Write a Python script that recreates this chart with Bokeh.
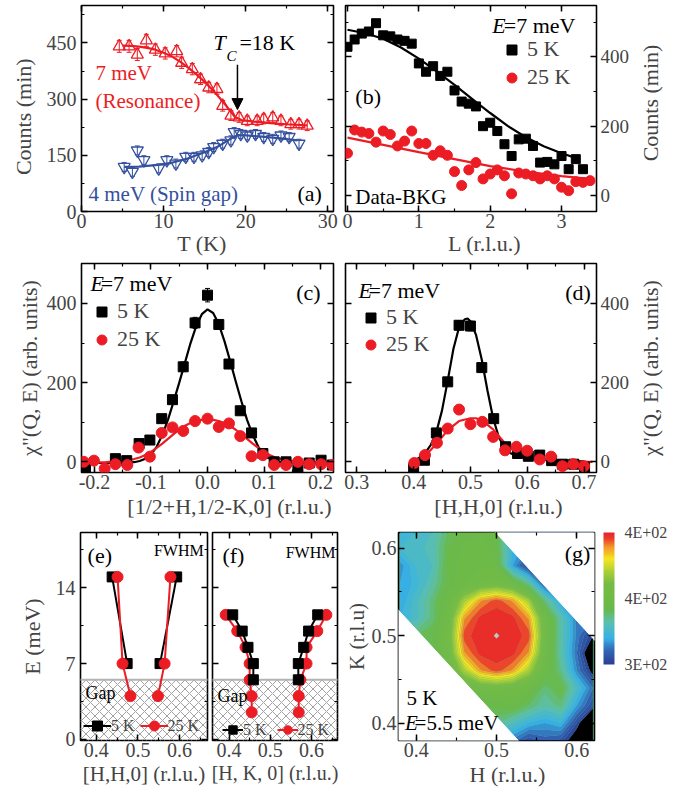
import numpy as np
from bokeh.plotting import figure
from bokeh.layouts import column, row
from bokeh.models import (Range1d, LinearAxis, SingleIntervalTicker, FixedTicker, Label,
                          Legend, LegendItem, Arrow, NormalHead, Whisker, TeeHead,
                          ColumnDataSource, ColorBar, LinearColorMapper, CustomJSTickFormatter)
from bokeh.embed import file_html
from bokeh.resources import INLINE

FONT = "Liberation Serif"
RED = "#ec1c24"
BLUE = "#34509e"
NB = "\u00a0"

# ------------------------------------------------------------------ data
# (a) temperature dependence
a_T_7 = [4.6, 5.8, 6.8, 7.9, 9.0, 10.2, 11.6, 12.2, 13.5, 14.5, 15.5, 16.5, 17.2, 18.2,
         19.2, 20.2, 21.4, 22.2, 23.3, 24.3, 25.5, 26.5, 27.5]
a_C_7 = [441, 441, 419, 457, 432, 422, 428, 397, 380, 353, 331, 327, 282, 256,
         251, 242, 242, 247, 251, 242, 233, 233, 229]
a_err_7 = [16, 16, 16, 16, 15, 15, 15, 15, 15, 14, 14, 14, 14, 13, 13, 13, 13, 13, 13, 13, 13, 13, 13]
a_fitT_7 = [5, 6, 7, 8, 9, 10, 11, 12, 13, 14, 15, 16, 17, 18, 18.7, 19.5, 21, 23, 25, 27.5]
a_fitC_7 = [443, 442, 440, 437, 432, 424, 414, 400, 384, 366, 346, 324, 299, 272, 252, 244, 240, 236, 233, 230]
a_T_4 = [5.2, 6.2, 6.8, 7.6, 9.4, 10.4, 11.5, 12.7, 13.7, 14.7, 15.5, 16.1, 17.2, 18.2,
         18.6, 19.4, 20.2, 21.2, 22.2, 23.3, 24.3, 25.3, 26.5]
a_C_4 = [119, 106, 163, 137, 115, 137, 128, 146, 146, 150, 159, 172, 181, 190,
         212, 207, 203, 207, 199, 194, 203, 199, 181]
a_err_4 = [12, 12, 12, 12, 12, 12, 12, 12, 12, 12, 12, 12, 12, 12, 12, 12, 12, 12, 12, 12, 12, 12, 12]
a_fitT_4 = [5.2, 7, 9, 11, 13, 15, 16.5, 18, 19, 20, 22, 24, 26.3]
a_fitC_4 = [119, 120, 124, 130, 142, 158, 172, 192, 204, 203, 200, 196, 190]

# (b) L dependence
b_L_5 = [0.0, 0.1, 0.2, 0.3, 0.4, 0.5, 0.6, 0.7, 0.8, 0.9, 1.0, 1.1, 1.2, 1.3, 1.4, 1.5, 1.6,
         1.7, 1.8, 1.9, 2.0, 2.1, 2.2, 2.3, 2.4, 2.5, 2.6, 2.7, 2.8, 2.9, 3.0, 3.1, 3.2, 3.3]
b_C_5 = [429, 450, 467, 473, 497, 462, 459, 450, 446, 438, 381, 357, 373, 345, 357, 303, 271,
         265, 257, 200, 210, 186, 148, 114, 162, 164, 143, 95, 97, 90, 114, 76, 105, 76]
b_L_25 = [0.0, 0.1, 0.2, 0.3, 0.4, 0.5, 0.6, 0.7, 0.8, 0.9, 1.0, 1.1, 1.2, 1.3, 1.4, 1.5, 1.6,
          1.7, 1.8, 1.9, 2.0, 2.1, 2.2, 2.3, 2.4, 2.5, 2.6, 2.7, 2.8, 2.9, 3.0, 3.1, 3.2, 3.3, 3.4]
b_C_25 = [122, 189, 183, 179, 154, 186, 176, 143, 157, 186, 150, 150, 116, 129, 116, 69, 29,
          74, 95, 48, 62, 74, 57, 5, 65, 62, 57, 48, 57, 48, 24, 14, 40, 38, 43]
b_fitL_5 = [0, 0.25, 0.5, 0.75, 1.0, 1.25, 1.5, 1.75, 2.0, 2.25, 2.5, 2.75, 3.0, 3.25]
b_fitC_5 = [478, 468, 452, 427, 395, 358, 319, 278, 238, 200, 168, 142, 122, 105]
b_fitL_25 = [0, 0.5, 1.0, 1.5, 2.0, 2.5, 3.0, 3.4]
b_fitC_25 = [167, 146, 125, 105, 85, 69, 56, 48]

# (c) [1/2+H,1/2-K,0] scan
c_Q_5 = [-0.216, -0.163, -0.143, -0.121, -0.102, -0.081, -0.062, -0.043, -0.022, 0.0, 0.020,
         0.038, 0.058, 0.078, 0.098, 0.118, 0.139, 0.160, 0.180, 0.201, 0.221]
c_C_5 = [-15, 8, 3, 46, 55, 109, 157, 240, 351, 421, 347, 247, 129, 73, 21, 0, 0, -13, -3, 4, -8]
c_err_5 = [6, 6, 6, 8, 8, 8, 10, 12, 14, 17, 12, 10, 8, 8, 6, 6, 6, 6, 6, 6, 6]
c_Q_25 = [-0.219, -0.201, -0.182, -0.163, -0.142, -0.122, -0.102, -0.081, -0.062, -0.043, -0.022,
          0.0, 0.020, 0.038, 0.058, 0.078, 0.098, 0.118, 0.139, 0.160, 0.180, 0.201, 0.221]
c_C_25 = [0, 3, -17, -6, -8, 36, 13, 73, 87, 78, 103, 109, 88, 97, 65, 14, 17, -8, -8, 0, -6, -6, -8]
c_fitQ = [-0.22, -0.18, -0.15, -0.13, -0.12, -0.11, -0.10, -0.09, -0.08, -0.07, -0.06, -0.05,
          -0.04, -0.03, -0.02, -0.01, 0.0, 0.01, 0.02, 0.03, 0.04, 0.05, 0.06, 0.07, 0.08, 0.09,
          0.10, 0.11, 0.12, 0.13, 0.15, 0.18, 0.22]
c_fitC_5 = [-3, -3, -3, -1, 2, 8, 18, 38, 68, 106, 152, 200, 250, 300, 343, 373, 385, 376, 348,
            305, 255, 203, 153, 106, 68, 38, 18, 8, 2, -1, -3, -3, -3]
c_fitC_25 = [-2, -1, 2, 7, 11, 17, 25, 35, 46, 58, 70, 81, 91, 98, 103, 106, 107, 106, 103, 98,
             91, 81, 70, 58, 46, 35, 25, 17, 11, 7, 2, -1, -2]

# (d) [H,H,0] scan
d_H_5 = [0.40, 0.419, 0.44, 0.46, 0.48, 0.50, 0.52, 0.541, 0.562, 0.583, 0.602, 0.622, 0.643,
         0.662, 0.682, 0.701]
d_C_5 = [-17, 4, 73, 202, 345, 343, 238, 109, 38, 21, 14, 17, 3, -6, -6, -13]
d_err_5 = [6, 6, 8, 10, 12, 12, 10, 8, 6, 6, 6, 6, 6, 6, 6, 6]
d_H_25 = [0.401, 0.420, 0.441, 0.46, 0.48, 0.50, 0.521, 0.54, 0.561, 0.581, 0.60, 0.622, 0.642,
          0.662, 0.681, 0.70]
d_C_25 = [-3, 17, 48, 84, 132, 95, 101, 63, 29, 38, 28, 6, 13, -11, -6, -11]
d_fitH_5 = [0.40, 0.41, 0.42, 0.43, 0.44, 0.45, 0.46, 0.47, 0.48, 0.49, 0.495, 0.50, 0.51, 0.52,
            0.53, 0.54, 0.55, 0.56, 0.57, 0.58, 0.60, 0.62, 0.65, 0.70]
d_fitC_5 = [3, 10, 22, 42, 75, 130, 205, 285, 340, 360, 362, 355, 320, 258, 180, 110, 62, 35,
            22, 15, 9, 6, 3, 1]
d_fitH_25 = [0.40, 0.42, 0.44, 0.46, 0.48, 0.50, 0.51, 0.52, 0.54, 0.56, 0.58, 0.60, 0.62, 0.65,
             0.70, 0.715]
d_fitC_25 = [0, 15, 45, 80, 103, 110, 110, 105, 82, 48, 24, 13, 8, 4, 0, 0]

# (e) FWHM edges along [H,H,0]
e_E_5 = [15, 7]
e_left_5 = [0.438, 0.474]
e_right_5 = [0.593, 0.553]
e_E_25 = [15, 7, 4]
e_left_25 = [0.451, 0.463, 0.482]
e_right_25 = [0.578, 0.564, 0.548]

# (f) FWHM edges along [H,K,0]
f_E_5 = [11.5, 10, 8.5, 7, 5.5]
f_left_5 = [0.409, 0.432, 0.446, 0.459, 0.459]
f_right_5 = [0.615, 0.593, 0.581, 0.568, 0.568]
f_E_25 = [11.5, 10, 8.5, 7, 5.5, 4, 2.5]
f_left_25 = [0.392, 0.420, 0.440, 0.450, 0.450, 0.455, 0.455]
f_right_25 = [0.636, 0.614, 0.588, 0.588, 0.573, 0.569, 0.569]

gap_top = 5.5   # spin gap (meV)

# (g) intensity map, E = 5.5 meV, 5 K   (rows: K, columns: H)
g_H = [0.38, 0.40, 0.42, 0.44, 0.46, 0.48, 0.50, 0.52, 0.54, 0.56, 0.58, 0.60, 0.62]
g_K = [0.38, 0.40, 0.42, 0.44, 0.46, 0.48, 0.50, 0.52, 0.54, 0.56, 0.58, 0.60, 0.62]
g_Z = [
    [345, 345, 345, 345, 345, 340, 330, 318, 305, 312, 308, 290, 262],
    [345, 345, 345, 350, 355, 355, 350, 340, 330, 325, 330, 305, 275],
    [345, 348, 350, 352, 355, 358, 362, 365, 355, 345, 352, 325, 305],
    [352, 355, 358, 365, 370, 375, 378, 375, 370, 352, 362, 338, 315],
    [350, 352, 355, 370, 398, 424, 433, 424, 398, 370, 350, 320, 295],
    [350, 352, 358, 375, 424, 437, 438, 437, 424, 375, 345, 315, 282],
    [350, 355, 360, 378, 433, 438, 440.4, 438, 433, 378, 345, 318, 300],
    [330, 338, 352, 375, 424, 437, 438, 437, 424, 375, 345, 318, 315],
    [325, 338, 352, 370, 398, 424, 433, 424, 398, 352, 325, 315, 315],
    [325, 332, 345, 362, 370, 375, 378, 370, 348, 308, 308, 308, 308],
    [322, 335, 340, 362, 368, 370, 368, 325, 300, 305, 305, 305, 305],
    [335, 338, 342, 360, 366, 368, 362, 330, 320, 320, 320, 320, 320],
    [335, 335, 340, 355, 362, 365, 360, 330, 320, 320, 320, 320, 320],
]
g_strip = [0.907, 1.117]        # measured region: g_strip[0] <= H+K <= g_strip[1]
g_low, g_high = 300, 440        # colour scale limits
g_cbar_ticks = [300, 370, 440]
g_cbar_labels = ["3E+02", "4E+02", "4E+02"]

# ------------------------------------------------------------------ styling helpers
CM_STOPS = [0.00, 0.10, 0.20, 0.32, 0.42, 0.62, 0.72, 0.80, 0.89, 0.95, 1.00]
CM_COLORS = ["#2b3f95", "#3264b4", "#38b2e6", "#5cc0ae", "#69b94a", "#78bc42", "#b5d234",
             "#f5e61e", "#f39a2b", "#eb412b", "#e8242a"]


def _rgb(h):
    return [int(h[i:i + 2], 16) for i in (1, 3, 5)]


def cmap(t):
    t = min(max(t, 0.0), 1.0)
    for i in range(len(CM_STOPS) - 1):
        if t <= CM_STOPS[i + 1]:
            f = (t - CM_STOPS[i]) / (CM_STOPS[i + 1] - CM_STOPS[i])
            a, b = _rgb(CM_COLORS[i]), _rgb(CM_COLORS[i + 1])
            return "#%02x%02x%02x" % tuple(int(round(a[k] + (b[k] - a[k]) * f)) for k in range(3))
    return CM_COLORS[-1]


def make_fig(w, h, xr, yr, bl, br, bt, bb):
    p = figure(width=w, height=h, x_range=Range1d(*xr), y_range=Range1d(*yr),
               output_backend="svg", toolbar_location=None,
               x_axis_location=None, y_axis_location=None,
               min_border_left=bl, min_border_right=br, min_border_top=bt, min_border_bottom=bb)
    p.grid.visible = False
    p.outline_line_color = "black"
    p.outline_line_width = 1.6
    p.background_fill_color = "white"
    p.border_fill_color = "white"
    return p


FMT1 = "return Math.abs(tick) < 1e-9 ? '0.0' : tick.toFixed(1);"


def style_title(ax, title, size, standoff):
    ax.axis_label = title
    ax.axis_label_text_font = FONT
    ax.axis_label_text_font_size = size
    ax.axis_label_text_font_style = "normal"
    ax.axis_label_standoff = standoff


def add_axis(p, side, interval, labels=False, title=None, tick_size="20px", title_size="22px",
             standoff=3, title_standoff=4, fixed1=False):
    ax = LinearAxis(ticker=SingleIntervalTicker(interval=interval, num_minor_ticks=2))
    ax.axis_line_color = None
    ax.major_tick_in = 6
    ax.major_tick_out = 0
    ax.minor_tick_in = 3
    ax.minor_tick_out = 0
    ax.major_tick_line_width = 1.5
    ax.minor_tick_line_width = 1.2
    if labels:
        ax.major_label_text_font = FONT
        ax.major_label_text_font_size = tick_size
        ax.major_label_standoff = standoff
        if fixed1:
            ax.formatter = CustomJSTickFormatter(code=FMT1)
    else:
        ax.formatter = CustomJSTickFormatter(code="return ''")
        ax.major_label_text_font_size = "0px"
        ax.major_label_standoff = 0
    if title:
        style_title(ax, title, title_size, title_standoff)
    p.add_layout(ax, side)
    return ax


def title_strip(width, height, left, top, bottom, title, size="22px"):
    """Narrow blank figure whose left axis carries a right-hand title reading bottom-to-top."""
    p = figure(width=width, height=height, x_range=Range1d(0, 1), y_range=Range1d(0, 1),
               output_backend="svg", toolbar_location=None,
               x_axis_location=None, y_axis_location=None,
               min_border_left=left, min_border_right=0, min_border_top=top, min_border_bottom=bottom)
    p.grid.visible = False
    p.outline_line_color = None
    p.background_fill_color = "white"
    p.border_fill_color = "white"
    ax = LinearAxis(ticker=FixedTicker(ticks=[]))
    ax.axis_line_color = None
    ax.major_tick_line_color = None
    ax.minor_tick_line_color = None
    ax.major_tick_in = 0
    ax.major_tick_out = 0
    ax.formatter = CustomJSTickFormatter(code="return ''")
    ax.major_label_text_font_size = "0px"
    ax.major_label_standoff = 0
    style_title(ax, title, size, 0)
    p.add_layout(ax, "left")
    return p


def lab(p, x, y, text, size="22px", color="black", italic=False, align="left"):
    p.add_layout(Label(x=x, y=y, text=text, text_font=FONT, text_font_size=size,
                       text_color=color, text_font_style="italic" if italic else "normal",
                       text_align=align, text_baseline="middle"))


def errbars(p, x, y, err, color, head=5):
    src = ColumnDataSource(dict(x=x, lo=[a - b for a, b in zip(y, err)],
                                hi=[a + b for a, b in zip(y, err)]))
    w = Whisker(source=src, base="x", lower="lo", upper="hi", dimension="height",
                line_color=color, line_width=1,
                lower_head=TeeHead(size=head, line_color=color, line_width=1),
                upper_head=TeeHead(size=head, line_color=color, line_width=1))
    w.level = "underlay"
    p.add_layout(w)


def legend(p, items, loc, gw=25, gh=25, size="22px", standoff=3, spacing=2,
           orientation="vertical"):
    lg = Legend(items=[LegendItem(label=l, renderers=r) for l, r in items], location=loc,
                orientation=orientation, glyph_width=gw, glyph_height=gh,
                label_standoff=standoff, spacing=spacing, padding=0, margin=0,
                border_line_color=None, background_fill_alpha=0,
                label_text_font=FONT, label_text_font_size=size, label_height=gh)
    p.add_layout(lg)


CHI = "\u03c7\"(Q, E) (arb. units)"

# ------------------------------------------------------------------ (a)
pa = make_fig(339, 258, (0, 30.7), (0, 550), 81, 6, 5, 45)
add_axis(pa, "below", 10, True, "T (K)" + NB * 2, standoff=2, title_standoff=0)
add_axis(pa, "left", 150, True, "Counts (min)" + NB * 3, standoff=5, title_standoff=8)
add_axis(pa, "above", 10)
add_axis(pa, "right", 150)
errbars(pa, a_T_7, a_C_7, a_err_7, RED, 5)
errbars(pa, a_T_4, a_C_4, a_err_4, BLUE, 5)
pa.line(a_fitT_7, a_fitC_7, line_color=RED, line_width=2.2)
pa.line(a_fitT_4, a_fitC_4, line_color=BLUE, line_width=2.2)
pa.scatter(a_T_7, a_C_7, marker="triangle", size=12, fill_color=None, line_color=RED, line_width=1.3)
pa.scatter(a_T_4, a_C_4, marker="inverted_triangle", size=12, fill_color=None, line_color=BLUE,
           line_width=1.3)
pa.add_layout(Arrow(end=NormalHead(size=11, fill_color="black", line_color="black"),
                    x_start=19.0, y_start=392, x_end=19.0, y_end=272,
                    line_color="black", line_width=1.5))
lab(pa, 16.08, 450, "T", "22px", italic=True)
lab(pa, 17.66, 415, "C", "15px", italic=True)
lab(pa, 19.24, 450, "=18 K", "22px")
lab(pa, 1.7, 370, "7 meV", "21px", RED)
lab(pa, 1.7, 296, "(Resonance)", "21px", RED)
lab(pa, 0.85, 48, "4 meV (Spin gap)", "21px", BLUE)
lab(pa, 26.3, 48, "(a)", "22px")

# ------------------------------------------------------------------ (b)
pb = make_fig(295, 258, (-0.028, 3.49), (-46, 548), 6, 38, 5, 45)
add_axis(pb, "below", 1, True, NB * 5 + "L (r.l.u.)", standoff=2, title_standoff=0)
add_axis(pb, "right", 200, True, tick_size="19px", standoff=4)
add_axis(pb, "above", 1)
add_axis(pb, "left", 200)
pb.line(b_fitL_5, b_fitC_5, line_color="black", line_width=2.2)
pb.line(b_fitL_25, b_fitC_25, line_color=RED, line_width=2.2)
b_sq = pb.scatter(b_L_5, b_C_5, marker="square", size=9, color="black")
b_ci = pb.scatter(b_L_25, b_C_25, marker="circle", size=10, color=RED)
legend(pb, [("5 K", [b_sq]), ("25 K", [b_ci])], (154, 121))
lab(pb, 2.03, 491, "E", italic=True)
lab(pb, 2.19, 491, "=7 meV")
lab(pb, 0.11, 285, "(b)")
lab(pb, 0.11, -4, "Data-BKG", "21px")
tb = title_strip(56, 258, 27, 5, 45, NB * 2 + "Counts (min)")

# ------------------------------------------------------------------ (c)
pc = make_fig(339, 264, (-0.223, 0.223), (-27, 501), 81, 6, 5, 50)
add_axis(pc, "below", 0.1, True, NB * 8 + "[1/2+H,1/2-K,0] (r.l.u.)", standoff=2,
         title_standoff=2, fixed1=True)
add_axis(pc, "left", 200, True, CHI, standoff=5, title_standoff=2)
add_axis(pc, "above", 0.1)
add_axis(pc, "right", 200)
errbars(pc, c_Q_5, c_C_5, c_err_5, "black", 5)
pc.line(c_fitQ, c_fitC_5, line_color="black", line_width=2.2)
pc.line(c_fitQ, c_fitC_25, line_color=RED, line_width=2.2)
c_sq = pc.scatter(c_Q_5, c_C_5, marker="square", size=10, color="black")
c_ci = pc.scatter(c_Q_25, c_C_25, marker="circle", size=11, color=RED)
legend(pc, [("5 K", [c_sq]), ("25 K", [c_ci])], (8, 120))
lab(pc, -0.207, 450, "E", italic=True)
lab(pc, -0.189, 450, "=7 meV")
lab(pc, 0.157, 428, "(c)")

# ------------------------------------------------------------------ (d)
pd = make_fig(295, 264, (0.28, 0.722), (-27, 501), 6, 38, 5, 50)
add_axis(pd, "below", 0.1, True, NB * 10 + "[H,H,0] (r.l.u.)", standoff=2, title_standoff=2,
         fixed1=True)
add_axis(pd, "right", 200, True, tick_size="19px", standoff=4)
add_axis(pd, "above", 0.1)
add_axis(pd, "left", 200)
errbars(pd, d_H_5, d_C_5, d_err_5, "black", 5)
pd.line(d_fitH_5, d_fitC_5, line_color="black", line_width=2.2)
pd.line(d_fitH_25, d_fitC_25, line_color=RED, line_width=2.2)
d_sq = pd.scatter(d_H_5, d_C_5, marker="square", size=10, color="black")
d_ci = pd.scatter(d_H_25, d_C_25, marker="circle", size=11, color=RED)
legend(pd, [("5 K", [d_sq]), ("25 K", [d_ci])], (13, 115), spacing=1)
lab(pd, 0.303, 433, "E", italic=True)
lab(pd, 0.3205, 433, "=7 meV")
lab(pd, 0.667, 428, "(d)")
td = title_strip(56, 264, 27, 5, 50, CHI)


# ------------------------------------------------------------------ (e), (f)
def fwhm_panel(p, E5, l5, r5, E25, l25, r25, xr, black_on_top):
    p.quad(left=[xr[0] - 0.05], right=[xr[1] + 0.05], bottom=[-1], top=[gap_top],
           fill_color=None, line_color="#b4b4b4", line_width=2,
           hatch_pattern="diagonal_cross", hatch_color="#8a8a8a", hatch_scale=9, hatch_weight=0.8)
    rs = {}

    def black():
        rs["l5"] = p.line(l5, E5, line_color="black", line_width=2)
        p.line(r5, E5, line_color="black", line_width=2)
        rs["s5"] = p.scatter(l5 + r5, E5 + E5, marker="square", size=10, color="black")

    def red():
        rs["l25"] = p.line(l25, E25, line_color=RED, line_width=2)
        p.line(r25, E25, line_color=RED, line_width=2)
        rs["s25"] = p.scatter(l25 + r25, E25 + E25, marker="circle", size=11, color=RED)

    if black_on_top:
        red(); black()
    else:
        black(); red()
    return rs


pe = make_fig(209, 273, (0.362, 0.667), (-0.1, 19.1), 80, 2, 10, 55)
add_axis(pe, "below", 0.1, True, "[H,H,0] (r.l.u.)", title_size="21px", standoff=2,
         title_standoff=2, fixed1=True)
add_axis(pe, "left", 7, True, "E (meV)", standoff=5, title_standoff=8)
add_axis(pe, "above", 0.1)
add_axis(pe, "right", 7)
rse = fwhm_panel(pe, e_E_5, e_left_5, e_right_5, e_E_25, e_left_25, e_right_25, (0.362, 0.667), False)
legend(pe, [("5 K", [rse["l5"], rse["s5"]]), ("25 K", [rse["l25"], rse["s25"]])], (3, 2),
       gw=28, gh=25, size="16px", standoff=0, spacing=5, orientation="horizontal")
lab(pe, 0.379, 16.98, "(e)")
lab(pe, 0.658, 17.44, "FWHM", "16px", align="right")
lab(pe, 0.374, 4.33, "Gap", "18px")

pf = make_fig(132, 273, (0.36, 0.663), (-0.1, 19.1), 3, 4, 10, 55)
add_axis(pf, "below", 0.1, True, "[H, K, 0] (r.l.u.)", title_size="20px", standoff=2,
         title_standoff=2, fixed1=True)
add_axis(pf, "left", 7)
add_axis(pf, "above", 0.1)
add_axis(pf, "right", 7)
rsf = fwhm_panel(pf, f_E_5, f_left_5, f_right_5, f_E_25, f_left_25, f_right_25, (0.36, 0.663), True)
legend(pf, [("5 K", [rsf["l5"], rsf["s5"]]), ("25 K", [rsf["l25"], rsf["s25"]])], (10, 0),
       gw=21, gh=21, size="16px", standoff=0, spacing=10, orientation="horizontal")
lab(pf, 0.384, 16.98, "(f)")
lab(pf, 0.658, 17.26, "FWHM", "16px", align="right")
lab(pf, 0.372, 4.05, "Gap", "18px")

# ------------------------------------------------------------------ (g)
pg = make_fig(349, 273, (0.378, 0.622), (0.38, 0.618), 50, 96, 10, 55)
pg.background_fill_color = "#62b98a"   # hides hairline seams between filled contour bands
add_axis(pg, "below", 0.1, True, NB * 5 + "H  (r.l.u.)", standoff=2, title_standoff=2, fixed1=True)
add_axis(pg, "left", 0.1, True, "K (r.l.u)", title_size="21px", standoff=2, title_standoff=0,
         fixed1=True)
add_axis(pg, "above", 0.1)
add_axis(pg, "right", 0.1)

g_levels = [250] + list(range(g_low, g_high + 1, 5)) + [460]
band_colors = []
for i in range(len(g_levels) - 1):
    lo, hi = g_levels[i], g_levels[i + 1]
    if hi <= g_low:
        band_colors.append("#000000")
    elif lo >= g_high:
        band_colors.append("#c4c4c4")
    else:
        band_colors.append(cmap(((lo + hi) / 2 - g_low) / (g_high - g_low)))
pg.contour(x=g_H, y=g_K, z=np.array(g_Z, dtype=float), levels=g_levels, fill_color=band_colors)
# blank the unmeasured corners outside g_strip[0] <= H+K <= g_strip[1]
x0, x1 = 0.30, 0.70
pg.patches(xs=[[x0, x0, g_strip[0] - x0], [g_strip[1] - x1, x1, x1]],
           ys=[[g_strip[0] - x0, x0, x0], [x1, x1, g_strip[1] - x1]],
           fill_color="white", line_color="white", line_width=1)
lab(pg, 0.585, 0.594, "(g)")
lab(pg, 0.388, 0.429, "5 K", "21px")
lab(pg, 0.386, 0.3995, "E", "21px", italic=True)
lab(pg, 0.398, 0.3995, "=5.5 meV", "21px")

mapper = LinearColorMapper(palette=[cmap(t) for t in np.linspace(0, 1, 141)], low=g_low, high=g_high)
cb = ColorBar(color_mapper=mapper, ticker=FixedTicker(ticks=g_cbar_ticks),
              major_label_overrides={t: s for t, s in zip(g_cbar_ticks, g_cbar_labels)},
              width=11, height=132, location=(9, 76), padding=0, margin=0,
              major_tick_line_color=None, bar_line_color=None, border_line_color=None,
              background_fill_alpha=0, label_standoff=10,
              major_label_text_font=FONT, major_label_text_font_size="16px")
pg.add_layout(cb, "right")

layout = column(row(pa, pb, tb), row(pc, pd, td), row(pe, pf, pg))
open("out.html", "w").write(file_html(layout, INLINE, "figure"))
